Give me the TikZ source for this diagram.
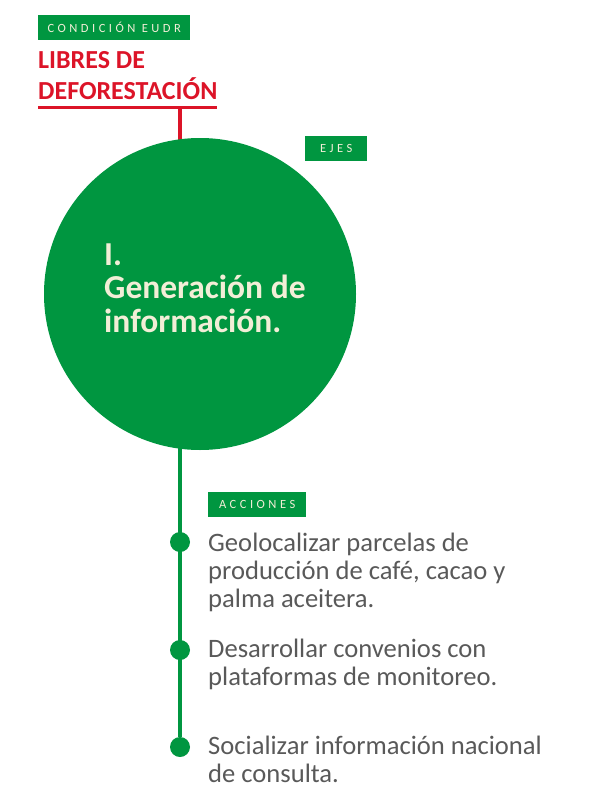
\documentclass[tikz,border=0pt]{standalone}
\usepackage{fontspec}
\setmainfont{Carlito}
\newfontfamily\tagfont[LetterSpace=28]{Carlito}
\usetikzlibrary{backgrounds}
\definecolor{ejegreen}{RGB}{0,150,64}
\definecolor{eudrred}{RGB}{220,20,40}
\definecolor{cream}{RGB}{242,238,215}
\definecolor{textgrey}{RGB}{89,89,89}
\tikzset{
  tagbox/.style={fill=ejegreen,text=cream,font=\tagfont\fontsize{12.5}{13}\selectfont,
    anchor=west,minimum height=25,inner xsep=0,inner ysep=0},
  accdot/.style={circle,fill=ejegreen,minimum size=20,inner sep=0},
  acctext/.style={anchor=base west,align=left,text=textgrey,inner sep=0,
    font=\fontsize{26.6}{28}\selectfont},
  redline/.style={draw=eudrred,line width=4},
  greenline/.style={draw=ejegreen,line width=4}
}
\begin{document}
\begin{tikzpicture}[x=1pt,y=-1pt]
\useasboundingbox (0,0) rectangle (600,800);
            % Condition
\node[tagbox,minimum width=152] (condicion) at (38,27.5) {CONDICIÓN EUDR};
\node[anchor=base west,align=left,inner sep=0,text=eudrred,
  font=\bfseries\fontsize{26}{31}\selectfont] (libres) at (38,99) {LIBRES DE\\DEFORESTACIÓN};
\coordinate (ulA) at (38,107.5);
\coordinate (ulB) at (217,107.5);
\draw[eudrred,line width=3] (ulA) -- (ulB);
\coordinate (redtop) at (180,107.5);
            % Axis
\node[circle,fill=ejegreen,minimum size=312,inner sep=0] (eje) at (200,294) {};
\node[anchor=base west,align=left,inner sep=0,text=cream,
  font=\bfseries\fontsize{33.5}{33.5}\selectfont] (ejetext) at (104,332) {I.\\Generación de\\información.};
\node[tagbox,minimum width=62] (ejes) at (305,148.5) {EJES};
            % Actions
\node[tagbox,minimum width=98] (acciones) at (208,504) {ACCIONES};
\node[accdot] (d1) at (180,542) {};
\node[accdot] (d2) at (180,650) {};
\node[accdot] (d3) at (180,747) {};
\node[acctext] (a1) at (208,607) {Geolocalizar parcelas de\\producción de café, cacao y\\palma aceitera.};
\node[acctext] (a2) at (208,685) {Desarrollar convenios con\\plataformas de monitoreo.};
\node[acctext] (a3) at (208,782) {Socializar información nacional\\de consulta.};
%Connections
\begin{scope}[on background layer]
\draw[redline] (redtop) -- (redtop |- eje.center);
\draw[greenline] (d3 |- eje.center) -- (d3);
\end{scope}
\end{tikzpicture}
\end{document}
